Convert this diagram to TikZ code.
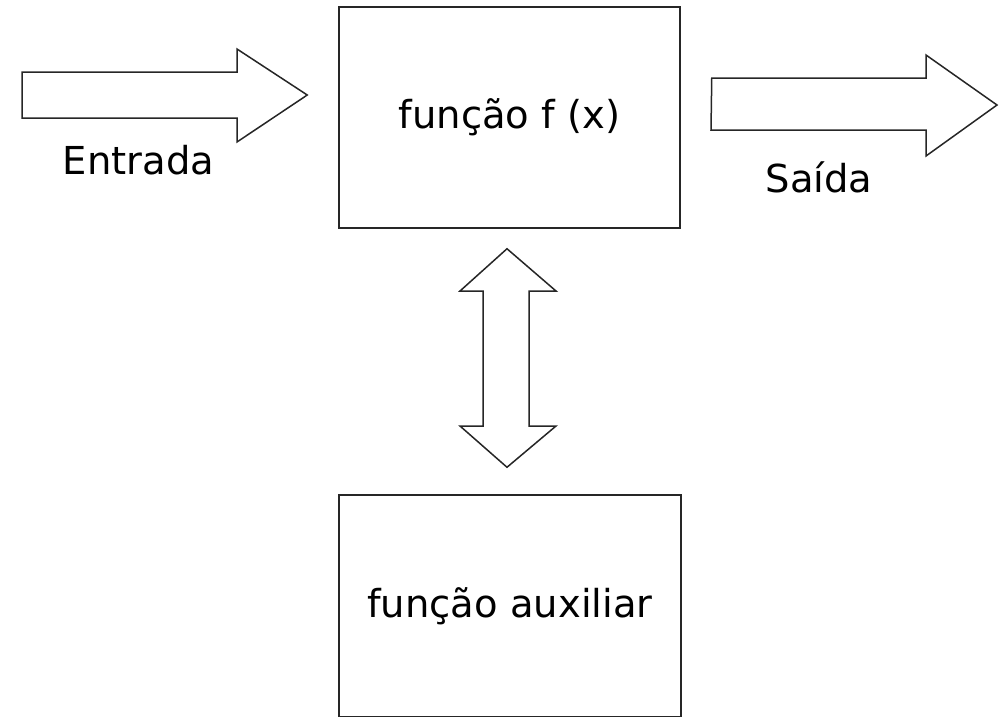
\documentclass[tikz,border=0pt]{standalone}
\usepackage{fontspec}
\setmainfont{DejaVu Sans}
\usetikzlibrary{calc}
\tikzset{
  box/.style={draw=black!85, line width=1.5pt, fill=white, inner sep=0pt,
    text height=22pt, text depth=0pt, font=\fontsize{38.5}{42}\selectfont},
  lbl/.style={anchor=base, inner sep=0pt, font=\fontsize{38.5}{42}\selectfont},
  bigarrow/.style={draw=black!85, line width=1.5pt, fill=white, line join=miter},
}
\begin{document}
\begin{tikzpicture}[x=1pt,y=-1pt]
\useasboundingbox (0,0) rectangle (1002,716);
\clip (0,0) rectangle (1002,716);
\node[box, minimum width=341pt, minimum height=221pt] (fx) at (509.5,117.5) {função f (x)};
\node[box, minimum width=342pt, minimum height=222pt] (aux) at (510,606) {função auxiliar};
\node[lbl] (ent) at (138.5,174) {Entrada};
\node[lbl] (sai) at (819,192) {Saída};
% input arrow
\coordinate (intip) at ($(fx.west)+(-31,-22.5)$);
\draw[bigarrow] (22,72) -- (237,72) -- (237,49) -- (intip) -- (237,142) -- (237,118) -- (22,118) -- cycle;
% output arrow
\coordinate (outtip) at (997,105);
\draw[bigarrow] ($(fx.east)+(31,-39.5)$) -- (926,78) -- (926,55) -- (outtip) -- (926,156) -- (926,130) -- (711,130) -- cycle;
% double arrow between boxes
\coordinate (uptip) at ($(fx.south)+(-2.5,20)$);
\coordinate (dntip) at ($(aux.north)+(-3,-27)$);
\draw[bigarrow] (uptip) -- (556,291) -- (529,291) -- (529,426) -- (556,426) -- (dntip) -- (460,426) -- (483,426) -- (483,291) -- (460,291) -- cycle;
\end{tikzpicture}
\end{document}
